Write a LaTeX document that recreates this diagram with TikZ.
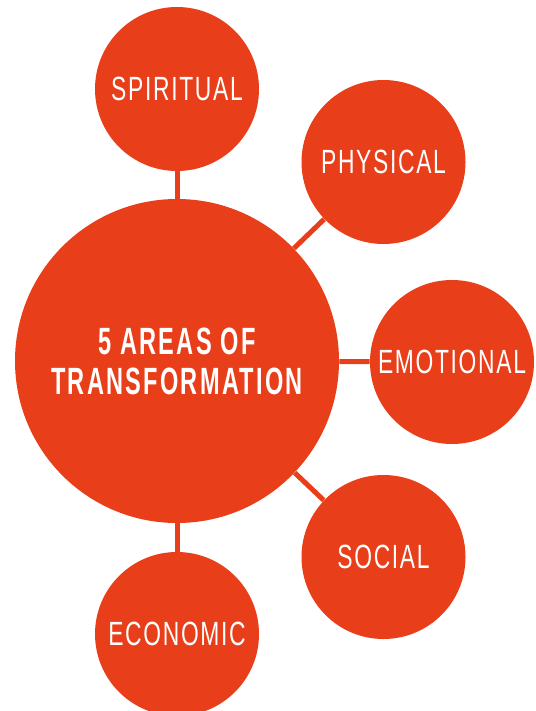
\documentclass[tikz,border=0pt]{standalone}
\usepackage{fontspec}
\usepackage{xcolor}
\usepackage{tikz}
\setmainfont{Liberation Sans}
\newfontfamily\areafont[FakeStretch=0.68,LetterSpace=5]{Liberation Sans}
\newfontfamily\hubfont[FakeStretch=0.62,LetterSpace=6]{Liberation Sans}
\definecolor{areared}{RGB}{232,62,25}
\usetikzlibrary{positioning}

\begin{document}
\begin{tikzpicture}[x=0.5pt,y=-0.5pt,
    area/.style={circle, fill=areared, text=white, inner sep=0pt, minimum size=82pt,
        font=\areafont\fontsize{16.8}{18}\selectfont},
    hub/.style={area, minimum size=162pt, align=center,
        font=\hubfont\bfseries\fontsize{19}{20}\selectfont},
    link/.style={draw=areared, line width=2.5pt}]
    \useasboundingbox (0,0) rectangle (535,711);

    \node[hub] (hub) at (177,361) {5 AREAS OF\\TRANSFORMATION};

    \node[area] (spiritual) at (177,89) {SPIRITUAL};
    \node[area] (physical) at (383.5,162) {PHYSICAL};
    \node[area] (emotional) at (452,362) {EMOTIONAL};
    \node[area] (social) at (383.5,557) {SOCIAL};
    \node[area] (economic) at (177,634) {ECONOMIC};

    \draw[link] (hub) -- (spiritual);
    \draw[link] (hub) -- (physical);
    \draw[link] (hub) -- (emotional);
    \draw[link] (hub) -- (social);
    \draw[link] (hub) -- (economic);
\end{tikzpicture}
\end{document}
